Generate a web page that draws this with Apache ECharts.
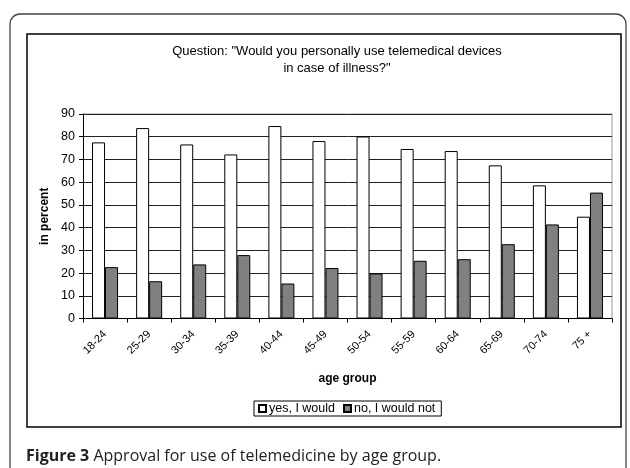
<!DOCTYPE html>
<html><head><meta charset="utf-8">
<script src="https://cdn.jsdelivr.net/npm/echarts@6/dist/echarts.min.js"></script>
<style>html,body{margin:0;padding:0;background:#fff}#c{width:630px;height:468px}</style>
</head><body><div id="c"></div>
<script>
const categories = ['18-24','25-29','30-34','35-39','40-44','45-49','50-54','55-59','60-64','65-69','70-74','75 +'];
const yesValues = [77.5, 83.8, 76.6, 72.2, 84.7, 78.1, 80.1, 74.6, 73.7, 67.4, 58.6, 44.8];
const noValues  = [22.6, 16.4, 23.8, 27.9, 15.4, 22.2, 19.8, 25.4, 26.1, 32.7, 41.4, 55.4];
const seriesNames = ['yes, I would', 'no, I would not'];
const yTicks = {min: 0, max: 90, interval: 10};

const chart = echarts.init(document.getElementById('c'), null, {renderer: 'canvas'});
const ff = '"Liberation Sans", Arial, sans-serif';
chart.setOption({
  animation: false,
  backgroundColor: '#fff',
  title: {
    text: 'Question: "Would you personally use telemedical devices\nin case of illness?"',
    left: 332, top: 38, textAlign: 'center',
    textStyle: {fontFamily: ff, fontSize: 13, fontWeight: 'normal', color: '#000', lineHeight: 17}
  },
  grid: {left: 83, right: 18, top: 114, bottom: 149.5},
  legend: {
    data: seriesNames, left: 254, top: 401,
    icon: 'rect', itemWidth: 7, itemHeight: 7, itemGap: 8,
    borderColor: '#000', borderWidth: 1, padding: [1, 6, 1, 4],
    textStyle: {fontFamily: ff, fontSize: 12.5, color: '#000', padding: [0, 0, 0, -2]}
  },
  xAxis: {
    type: 'category', data: categories,
    name: 'age group', nameLocation: 'middle', nameGap: 54,
    nameTextStyle: {fontFamily: ff, fontSize: 12, fontWeight: 'bold', color: '#000'},
    axisLine: {lineStyle: {color: '#000', width: 1}},
    axisTick: {show: true, length: 4, alignWithLabel: false, lineStyle: {color: '#000'}},
    axisLabel: {rotate: 45, fontFamily: ff, fontSize: 11, color: '#000', margin: 14}
  },
  yAxis: {
    type: 'value', min: yTicks.min, max: yTicks.max, interval: yTicks.interval,
    name: 'in percent', nameLocation: 'middle', nameGap: 27, nameRotate: 90,
    nameTextStyle: {fontFamily: ff, fontSize: 12, fontWeight: 'bold', color: '#000'},
    axisLine: {show: true, lineStyle: {color: '#000', width: 1}},
    axisTick: {show: true, length: 4, lineStyle: {color: '#000'}},
    axisLabel: {fontFamily: ff, fontSize: 12.5, color: '#000', margin: 8},
    splitLine: {lineStyle: {color: '#222', width: 1}}
  },
  series: [
    {name: seriesNames[0], type: 'bar', data: yesValues, barWidth: 13, barGap: '0%',
     itemStyle: {color: '#fff', borderColor: '#000', borderWidth: 1}},
    {name: seriesNames[1], type: 'bar', data: noValues, barWidth: 13, barGap: '0%',
     itemStyle: {color: '#808080', borderColor: '#000', borderWidth: 1}}
  ],
  graphic: [
    {type: 'rect', shape: {x: 10, y: 14, width: 616, height: 480, r: 10},
     style: {fill: null, stroke: '#444', lineWidth: 1.3}, silent: true},
    {type: 'rect', shape: {x: 27, y: 34, width: 594, height: 393},
     style: {fill: null, stroke: '#000', lineWidth: 1.5}, silent: true},
    {type: 'polyline', shape: {points: [[83, 114], [612, 114], [612, 318.5]]},
     style: {fill: null, stroke: '#999', lineWidth: 1}, silent: true, z: 0},
    {type: 'text', left: 26, top: 448,
     style: {text: '{b|Figure 3} Approval for use of telemedicine by age group.',
       rich: {b: {fontWeight: 'bold', fontSize: 16, fontFamily: '"Open Sans", sans-serif', fill: '#222'}},
       fontSize: 16, fontFamily: '"Open Sans", sans-serif', fill: '#222'}}
  ]
});
</script></body></html>
